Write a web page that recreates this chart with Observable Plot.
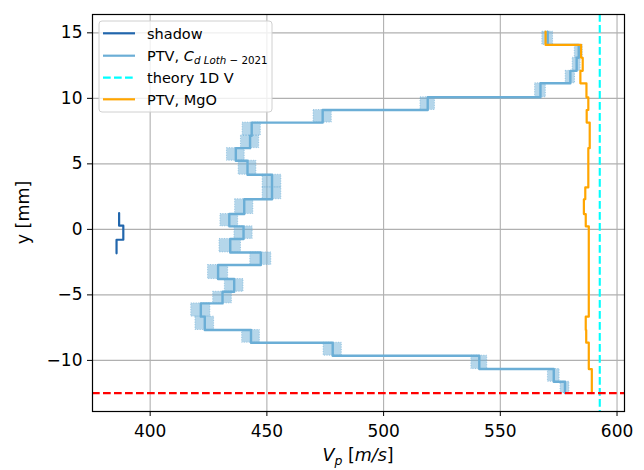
<!DOCTYPE html>
<html><head><meta charset="utf-8">
<script src="https://cdn.jsdelivr.net/npm/d3@7"></script>
<script src="https://cdn.jsdelivr.net/npm/@observablehq/plot@0.6"></script>
<style>body{margin:0;background:#fff;} #chart{width:644px;height:470px;}</style>
</head><body><div id="chart"></div>
<script>
// Bin edges (y, mm) of the PTV staircase, top to bottom
const yEdges = [15.09, 14.08, 13.10, 12.10, 11.15, 10.08, 9.11, 8.15, 7.15, 6.20, 5.24, 4.17, 3.20, 2.30, 1.17, 0.23, -0.73, -1.76, -2.72, -3.79, -4.76, -5.65, -6.66, -7.68, -8.65, -9.64, -10.66, -11.63, -12.49];
// PTV, C_d Loth-2021 velocity per bin (m/s)
const ptvLoth = [570.3, 583.6, 582.7, 580.0, 567.2, 518.9, 473.9, 443.5, 442.8, 436.7, 441.7, 452.2, 452.2, 440.3, 433.9, 440.0, 434.3, 447.4, 429.1, 436.0, 431.0, 421.7, 423.4, 443.2, 478.2, 541.0, 572.9, 577.7];
// half-width of the uncertainty band per bin (m/s)
const ptvErr = [2.3, 1.7, 1.7, 2.0, 2.3, 3.1, 3.9, 3.9, 3.9, 3.8, 3.8, 4.0, 4.0, 3.9, 3.8, 3.9, 4.6, 4.5, 4.3, 4.0, 4.0, 4.1, 4.0, 3.8, 3.9, 3.4, 2.5, 1.9];
// PTV, MgO velocity per bin (m/s)
const ptvMgO = [569.4, 584.6, 585.3, 584.3, 586.9, 587.7, 587.0, 588.3, 588.3, 587.7, 587.7, 587.7, 586.4, 585.8, 586.6, 587.9, 587.9, 587.9, 587.9, 587.9, 587.9, 587.9, 586.6, 586.8, 587.9, 587.9, 589.2, 589.2];
// shadow measurement
const shadowEdges = [1.25, 0.28, -0.79, -1.83];
const shadowV = [386.7, 388.5, 385.6];
// theory 1D V and wall position
const theoryV = 592.6;
const wallY = -12.5;
const xTicks = [400, 450, 500, 550, 600];
const yTicks = [-10, -5, 0, 5, 10, 15];

function stairs(edges, vals) {
  const pts = [];
  vals.forEach((v, i) => { pts.push({x: v, y: edges[i]}); pts.push({x: v, y: edges[i + 1]}); });
  return pts;
}
const boxes = ptvLoth.map((v, i) => ({x1: v - ptvErr[i], x2: v + ptvErr[i], y1: yEdges[i], y2: yEdges[i + 1]}));

const chart = Plot.plot({
  width: 644, height: 470,
  marginLeft: 92, marginRight: 20, marginTop: 14, marginBottom: 59,
  style: {fontFamily: "DejaVu Sans, sans-serif", fontSize: "17px", color: "#000", background: "#fff"},
  x: {domain: [375.3, 603.2]},
  y: {domain: [-13.9, 16.4]},
  marks: [
    Plot.gridX(xTicks, {stroke: "#b0b0b0", strokeOpacity: 1, strokeWidth: 1.1}),
    Plot.gridY(yTicks, {stroke: "#b0b0b0", strokeOpacity: 1, strokeWidth: 1.1}),
    Plot.rect(boxes, {x1: "x1", x2: "x2", y1: "y1", y2: "y2", fill: "#6baed6", fillOpacity: 0.5, stroke: "#6baed6", strokeOpacity: 0.6, strokeDasharray: "1,1.5"}),
    Plot.line(stairs(yEdges, ptvLoth), {x: "x", y: "y", stroke: "#6baed6", strokeWidth: 2.4}),
    Plot.line(stairs(shadowEdges, shadowV), {x: "x", y: "y", stroke: "#2166ac", strokeWidth: 2.2}),
    Plot.line(stairs(yEdges, ptvMgO), {x: "x", y: "y", stroke: "#ffa500", strokeWidth: 2.2}),
    Plot.ruleX([theoryV], {stroke: "#00ffff", strokeWidth: 2.1, strokeDasharray: "7.7,3.3"}),
    Plot.ruleY([wallY], {stroke: "#ff0000", strokeWidth: 2.1, strokeDasharray: "7.7,3.3"}),
    Plot.axisX(xTicks, {tickSize: 5, tickPadding: 8, label: null}),
    Plot.axisY(yTicks, {tickSize: 5, tickPadding: 5, label: null}),
    Plot.frame({stroke: "#000", strokeWidth: 1.2})
  ]
});
document.getElementById("chart").appendChild(chart);

const svg = d3.select(chart);
// axis labels
const xl = svg.append("text").attr("x", 358).attr("y", 461).attr("text-anchor", "middle")
  .attr("font-size", 17.5).attr("fill", "#000");
xl.append("tspan").attr("font-style", "italic").text("V");
xl.append("tspan").attr("font-style", "italic").attr("font-size", 12.5).attr("dy", 4).text("p");
xl.append("tspan").attr("dy", -4).text(" [");
xl.append("tspan").attr("font-style", "italic").text("m/s");
xl.append("tspan").text("]");
svg.append("text").attr("transform", "translate(29,212.5) rotate(-90)").attr("text-anchor", "middle")
  .attr("font-size", 17.5).attr("fill", "#000").text("y [mm]");

// legend
const lg = svg.append("g").attr("text-anchor", "start");
lg.append("rect").attr("x", 99).attr("y", 21).attr("width", 173).attr("height", 91).attr("rx", 3)
  .attr("fill", "#fff").attr("fill-opacity", 0.8).attr("stroke", "#d0d0d0").attr("stroke-width", 1);
const entries = [
  {color: "#2166ac", dash: null, y: 33.3},
  {color: "#6baed6", dash: null, y: 55.7},
  {color: "#00ffff", dash: "7.7,3.3", y: 77.7},
  {color: "#ffa500", dash: null, y: 99.3}
];
entries.forEach(e => {
  const l = lg.append("line").attr("x1", 103).attr("x2", 135).attr("y1", e.y).attr("y2", e.y)
    .attr("stroke", e.color).attr("stroke-width", 2.2);
  if (e.dash) l.attr("stroke-dasharray", e.dash);
});
function legText(y) {
  return lg.append("text").attr("x", 147).attr("y", y + 5.2).attr("text-anchor", "start")
    .attr("font-size", 14.5).attr("fill", "#000");
}
legText(33.3).text("shadow");
const t2 = legText(55.7);
t2.append("tspan").text("PTV, ");
t2.append("tspan").attr("font-style", "italic").text("C");
t2.append("tspan").attr("font-style", "italic").attr("font-size", 10.3).attr("dy", 3.5).text("d Loth");
t2.append("tspan").attr("font-size", 10.3).text(" \u2212 2021");
legText(77.7).text("theory 1D V");
legText(99.3).text("PTV, MgO");
</script>
</body></html>
